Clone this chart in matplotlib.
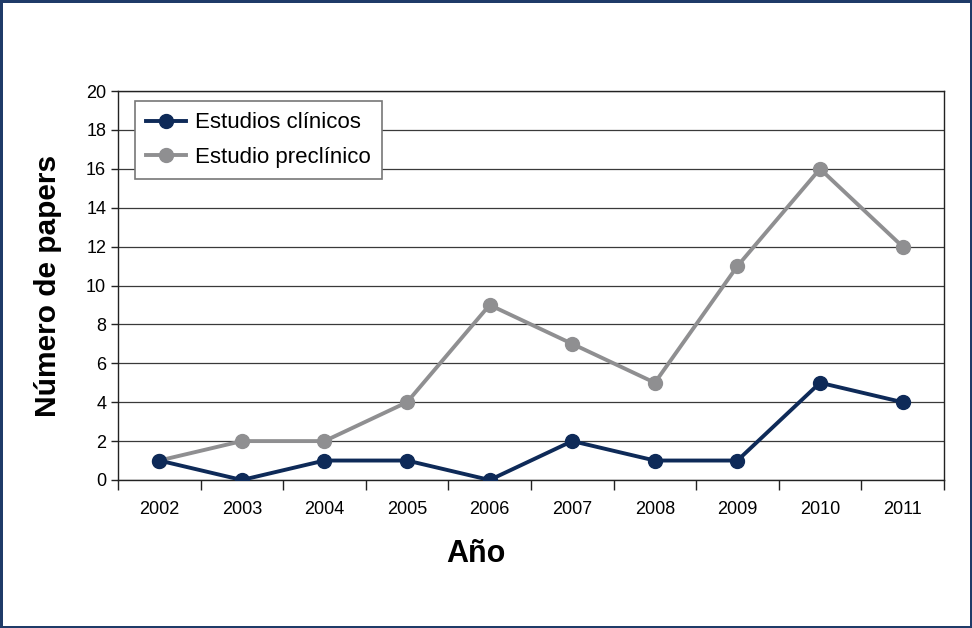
import matplotlib
matplotlib.use("Agg")
import matplotlib.pyplot as plt
import numpy as np

years = ["2002", "2003", "2004", "2005", "2006", "2007", "2008", "2009", "2010", "2011"]
clinicos = [1, 0, 1, 1, 0, 2, 1, 1, 5, 4]
preclinico = [1, 2, 2, 4, 9, 7, 5, 11, 16, 12]

plt.rcParams["font.family"] = ["Liberation Sans", "DejaVu Sans"]

NAVY = "#0e2a58"
GRAY = "#8f8f91"

fig = plt.figure(figsize=(9.72, 6.28), dpi=100)
fig.patch.set_edgecolor("#1f3b68")
fig.patch.set_linewidth(2.5)
ax = fig.add_axes([0.1214, 0.2357, 0.8497, 0.6193])

x = np.arange(len(years))
ax.plot(x, clinicos, color=NAVY, lw=2.8, marker="o", ms=10, label="Estudios clínicos", zorder=4)
ax.plot(x, preclinico, color=GRAY, lw=2.8, marker="o", ms=10, label="Estudio preclínico", zorder=3)

ax.set_xlim(-0.5, len(years) - 0.5)
ax.set_ylim(0, 20)
ax.set_yticks(range(0, 21, 2))
ax.yaxis.grid(True, color="#3a3a3a", lw=0.9)
ax.set_axisbelow(True)
ax.set_xticks(x)
ax.set_xticklabels(years, fontsize=13)
ax.set_xticks(np.arange(-0.5, len(years), 1), minor=True)
ax.tick_params(axis="x", which="major", length=0, pad=15)
ax.tick_params(axis="x", which="minor", length=7, width=1, color="#222222")
ax.tick_params(axis="y", length=5, width=1, labelsize=13, color="#222222")
for s in ax.spines.values():
    s.set_color("#222222")
    s.set_linewidth(1)

ax.set_ylabel("Número de papers", fontsize=21.5, fontweight="bold", va="center")
ax.yaxis.set_label_coords(-0.0846, 0.5)
ax.set_xlabel("Año", fontsize=22, fontweight="bold", va="center")
ax.xaxis.set_label_coords(0.433, -0.19)

leg = ax.legend(loc="upper left", bbox_to_anchor=(0.021, 0.974), fontsize=16,
                fancybox=False, framealpha=1, edgecolor="#777777",
                handlelength=1.8, handletextpad=0.4, borderpad=0.5,
                labelspacing=0.6, borderaxespad=0)
leg.get_frame().set_linewidth(1.2)

fig.savefig("out.png", dpi=100, edgecolor=fig.get_edgecolor())
